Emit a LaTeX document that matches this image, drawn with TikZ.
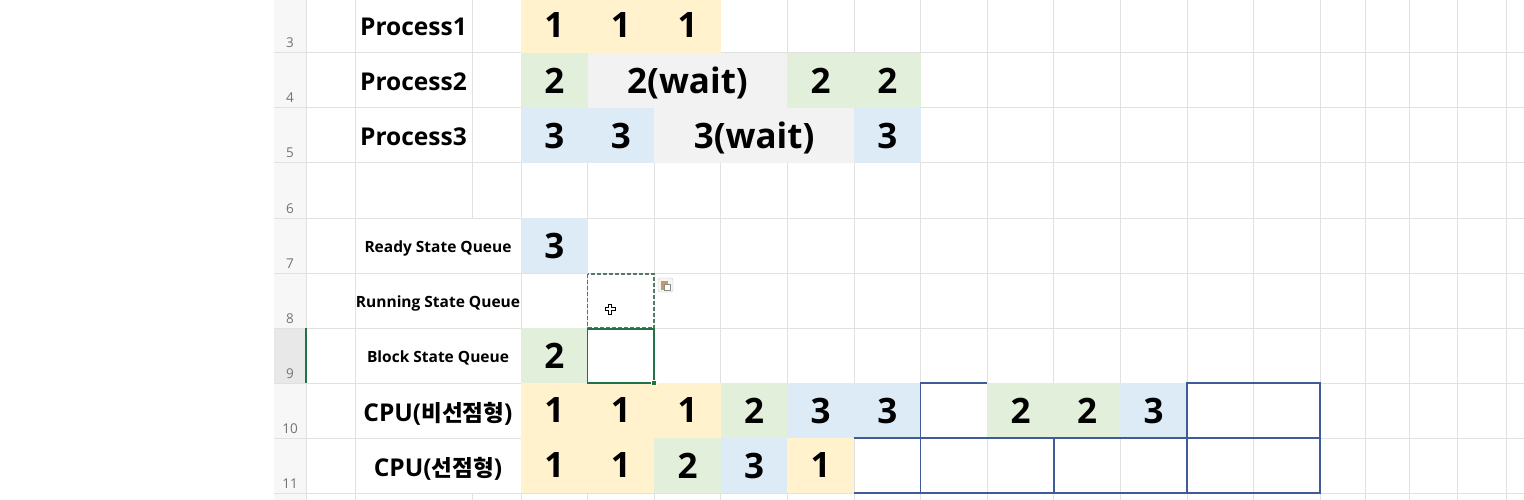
\documentclass[tikz,border=0pt]{standalone}
\usepackage{fontspec}
\setmainfont{Open Sans}
\newfontfamily\krfont{Noto Sans CJK KR}[Scale=0.92]
\definecolor{cyel}{HTML}{FFF2CC}
\definecolor{cgrn}{HTML}{E2EFDA}
\definecolor{cblu}{HTML}{DDEBF7}
\definecolor{cgry}{HTML}{F2F2F3}
\definecolor{gridc}{HTML}{E1E1E1}
\definecolor{framec}{HTML}{3F5B98}
\definecolor{selc}{HTML}{217346}
\definecolor{marqc}{HTML}{557A64}
\begin{document}
\begin{tikzpicture}[x=1pt,y=-1pt]
\tikzstyle{cell}=[rectangle,inner sep=0pt,minimum width=66.6pt,minimum height=55pt,text depth=0pt,font=\bfseries\fontsize{35}{37}\selectfont]
\tikzstyle{widecell}=[cell,minimum width=199.8pt]
\tikzstyle{rowtitle}=[inner sep=0pt,text depth=0pt,font=\bfseries\fontsize{24.5}{26}\selectfont]
\tikzstyle{queuetitle}=[inner sep=0pt,text depth=0pt,font=\bfseries\fontsize{15.5}{17}\selectfont]
\tikzstyle{rownum}=[inner sep=0pt,anchor=base,text=black!55,font=\fontsize{13.5}{15}\selectfont]
\tikzstyle{grid}=[draw=gridc,line width=1pt]
\tikzstyle{frame}=[draw=framec,line width=1.5pt]
\useasboundingbox (0,0) rectangle (1524,500);
\fill[white] (0,0) rectangle (1524,500);
% row header column
\fill[black!3] (274,-2) rectangle (306,500);
\fill[black!9] (274,328) rectangle (306,383);
% grid lines
\path[grid] (274,53) -- (1524,53) (274,108) -- (1524,108) (274,163) -- (1524,163)
  (274,218) -- (1524,218) (274,273) -- (1524,273) (274,328) -- (1524,328)
  (274,383) -- (1524,383) (274,438) -- (1524,438) (274,493) -- (1524,493);
\path[grid] (306,-2) -- (306,500) (355,-2) -- (355,500) (472,-2) -- (472,218) (472,493) -- (472,500)
  (521,-2) -- (521,500) (587.6,-2) -- (587.6,500) (654.2,-2) -- (654.2,500) (720.8,-2) -- (720.8,500)
  (787.4,-2) -- (787.4,500) (854,-2) -- (854,500) (920.6,-2) -- (920.6,500) (987.2,-2) -- (987.2,500)
  (1053.8,-2) -- (1053.8,500) (1120.4,-2) -- (1120.4,500) (1187,-2) -- (1187,500) (1253.6,-2) -- (1253.6,500)
  (1320.2,-2) -- (1320.2,500) (1365,-2) -- (1365,500) (1409,-2) -- (1409,500) (1457,-2) -- (1457,500)
  (1506,-2) -- (1506,500);
\draw[selc,line width=1.5pt] (306,328) -- (306,383);
% row numbers
\node[rownum] (n3) at (290,48) {3};
\node[rownum] (n4) at (290,103) {4};
\node[rownum] (n5) at (290,158) {5};
\node[rownum] (n6) at (290,213) {6};
\node[rownum] (n7) at (290,268) {7};
\node[rownum] (n8) at (290,323) {8};
\node[rownum] (n9) at (290,378) {9};
\node[rownum] (n10) at (290,433) {10};
\node[rownum] (n11) at (290,488) {11};
% row titles
\node[rowtitle] (t1) at (413.5,27) {Process1};
\node[rowtitle] (t2) at (413.5,82) {Process2};
\node[rowtitle] (t3) at (413.5,137) {Process3};
\node[queuetitle] (tr) at (438,246.5) {Ready State Queue};
\node[queuetitle] (tu) at (438,301.5) {Running State Queue};
\node[queuetitle] (tb) at (438,356.5) {Block State Queue};
\node[rowtitle] (tn) at (438,411.5) {CPU({\krfont 비선점형})};
\node[rowtitle] (tp) at (438,466.5) {CPU({\krfont 선점형})};
% Process1
\node[cell,fill=cyel] (p1a) at (554.3,25.5) {1};
\node[cell,fill=cyel] (p1b) at (620.9,25.5) {1};
\node[cell,fill=cyel] (p1c) at (687.5,25.5) {1};
% Process2
\node[cell,fill=cgrn] (p2a) at (554.3,80.5) {2};
\node[widecell,fill=cgry] (p2w) at (687.5,80.5) {2(wait)};
\node[cell,fill=cgrn] (p2b) at (820.7,80.5) {2};
\node[cell,fill=cgrn] (p2c) at (887.3,80.5) {2};
% Process3
\node[cell,fill=cblu] (p3a) at (554.3,135.5) {3};
\node[cell,fill=cblu] (p3b) at (620.9,135.5) {3};
\node[widecell,fill=cgry] (p3w) at (754.1,135.5) {3(wait)};
\node[cell,fill=cblu] (p3c) at (887.3,135.5) {3};
% queues
\node[cell,fill=cblu] (rq) at (554.3,245.5) {3};
\node[cell,fill=cgrn] (bq) at (554.3,355.5) {2};
% CPU non-preemptive
\node[cell,fill=cyel] (np1) at (554.3,410.5) {1};
\node[cell,fill=cyel] (np2) at (620.9,410.5) {1};
\node[cell,fill=cyel] (np3) at (687.5,410.5) {1};
\node[cell,fill=cgrn] (np4) at (754.1,410.5) {2};
\node[cell,fill=cblu] (np5) at (820.7,410.5) {3};
\node[cell,fill=cblu] (np6) at (887.3,410.5) {3};
\node[cell,fill=cgrn] (np8) at (1020.5,410.5) {2};
\node[cell,fill=cgrn] (np9) at (1087.1,410.5) {2};
\node[cell,fill=cblu] (np10) at (1153.7,410.5) {3};
% CPU preemptive
\node[cell,fill=cyel] (pp1) at (554.3,465.5) {1};
\node[cell,fill=cyel] (pp2) at (620.9,465.5) {1};
\node[cell,fill=cgrn] (pp3) at (687.5,465.5) {2};
\node[cell,fill=cblu] (pp4) at (754.1,465.5) {3};
\node[cell,fill=cyel] (pp5) at (820.7,465.5) {1};
% blue borders
\path[frame] (987.2,383) -- (920.6,383) -- (920.6,493);
\path[frame] (854,438) -- (1320.2,438) (854,493) -- (1320.2,493) (1053.8,438) -- (1053.8,493);
\path[frame] (1187,383) rectangle (1320.2,493);
% copy marquee and selection
\draw[marqc,line width=1.5pt,dash pattern=on 4pt off 2pt] (587.6,274) rectangle (654.2,328);
\draw[selc,line width=1.5pt] (587.6,329) rectangle (654.2,383);
\draw[fill=selc,draw=white,line width=1pt] (651.7,380.5) rectangle (656.7,385.5);
% paste icon
\draw[fill=black!4,draw=black!20,rounded corners=1.5pt] (658,278) rectangle (673,292);
\fill[fill={rgb,255:red,196;green,156;blue,94}] (661,281) rectangle (668,290);
\draw[fill=white,draw=black!45,line width=0.6pt] (664,284.5) rectangle (670,290.5);
% move cursor
\draw[fill=white,draw=black,line width=0.7pt] (608.5,304) -- (611.5,304) -- (611.5,307.5) -- (615,307.5) -- (615,310.5)
  -- (611.5,310.5) -- (611.5,314) -- (608.5,314) -- (608.5,310.5) -- (605,310.5) -- (605,307.5) -- (608.5,307.5) -- cycle;
\end{tikzpicture}
\end{document}
